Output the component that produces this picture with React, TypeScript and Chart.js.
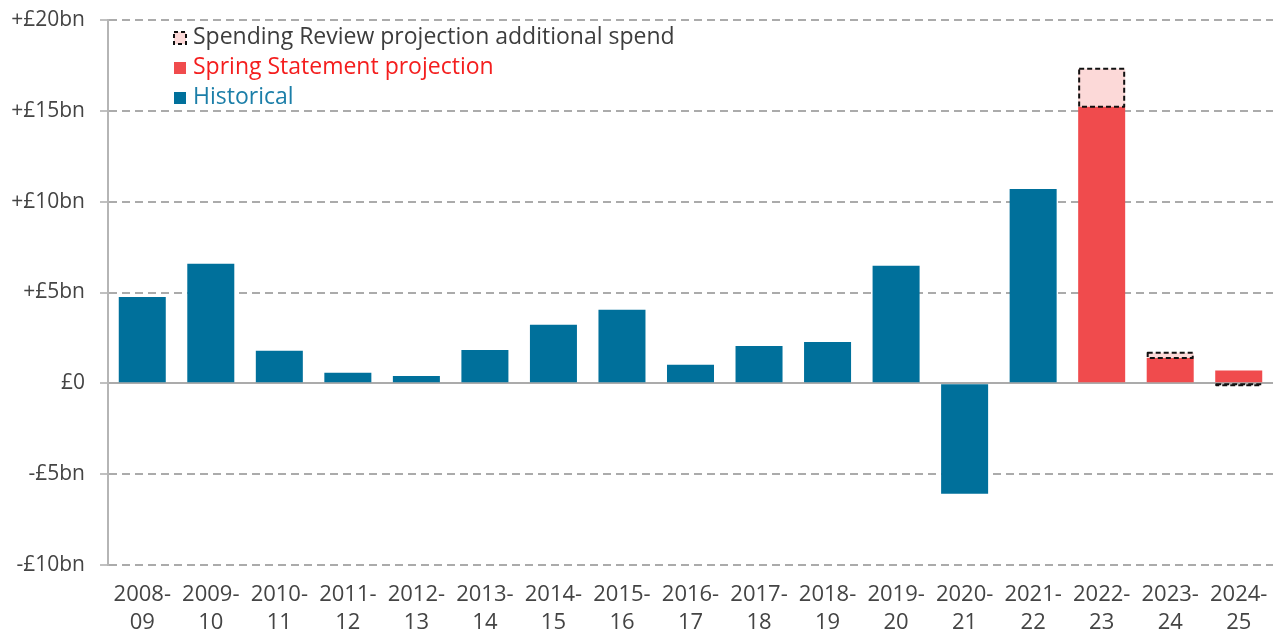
import React, { useEffect, useRef } from "react";
import { Chart, registerables } from "chart.js";

Chart.register(...registerables);

const categories = [
  "2008-09", "2009-10", "2010-11", "2011-12", "2012-13", "2013-14", "2014-15", "2015-16",
  "2016-17", "2017-18", "2018-19", "2019-20", "2020-21", "2021-22", "2022-23", "2023-24", "2024-25",
];
const historical = [4.75, 6.58, 1.79, 0.58, 0.41, 1.84, 3.22, 4.05, 1.02, 2.06, 2.28, 6.47, -6.08, 10.7, null, null, null];
const springStatement = [null, null, null, null, null, null, null, null, null, null, null, null, null, null, 15.23, 1.4, 0.7];
const reviewBase = [null, null, null, null, null, null, null, null, null, null, null, null, null, null, 15.23, 1.4, 0];
const reviewTop = [null, null, null, null, null, null, null, null, null, null, null, null, null, null, 17.31, 1.68, -0.06];
const yTicks = [-10, -5, 0, 5, 10, 15, 20];

const FONT = "'Open Sans', sans-serif";
const BLUE = "#00709b";
const RED = "#f04b4d";
const PINK = "#fcd9d8";
const GRID = "#ababab";
const TEXT = "#444444";

const legendItems = [
  { label: "Spending Review projection additional spend", fill: PINK, dashed: true, color: "#3d3d3d" },
  { label: "Spring Statement projection", fill: RED, dashed: false, color: "#f41e1e" },
  { label: "Historical", fill: BLUE, dashed: false, color: "#1b7ea8" },
];

const dashedOutline = {
  id: "dashedOutline",
  afterDatasetsDraw(chart: any) {
    const meta = chart.getDatasetMeta(0);
    const ctx = chart.ctx;
    ctx.save();
    ctx.strokeStyle = "#111";
    ctx.lineWidth = 2;
    ctx.setLineDash([5, 3]);
    ctx.lineJoin = "round";
    meta.data.forEach((el: any, i: number) => {
      if (reviewTop[i] === null) return;
      const p = el.getProps(["x", "y", "base", "width"], true);
      const left = p.x - p.width / 2;
      const top = Math.min(p.y, p.base);
      const h = Math.max(Math.abs(p.base - p.y), 1);
      ctx.strokeRect(left + 1, top, p.width - 2, h);
    });
    ctx.restore();
  },
};

const insideLegend = {
  id: "insideLegend",
  afterDraw(chart: any) {
    const ctx = chart.ctx;
    ctx.save();
    ctx.font = `23px ${FONT}`;
    ctx.textBaseline = "middle";
    legendItems.forEach((it, i) => {
      const cy = 37 + i * 30;
      const sx = 174;
      const s = 12;
      ctx.fillStyle = it.fill;
      ctx.fillRect(sx, cy - s / 2 + 1, s, s);
      if (it.dashed) {
        ctx.strokeStyle = "#111";
        ctx.lineWidth = 2;
        ctx.setLineDash([4, 3]);
        ctx.strokeRect(sx, cy - s / 2 + 1, s, s);
        ctx.setLineDash([]);
      }
      ctx.fillStyle = it.color;
      ctx.fillText(it.label, 193, cy);
    });
    ctx.restore();
  },
};

export default function App() {
  const ref = useRef<HTMLCanvasElement | null>(null);
  useEffect(() => {
    if (!ref.current) return;
    const chart = new Chart(ref.current, {
      type: "bar",
      data: {
        labels: categories,
        datasets: [
          {
            label: "Spending Review projection additional spend",
            data: reviewBase.map((b, i) => (b === null ? null : [b, reviewTop[i] as number])) as any,
            backgroundColor: PINK,
            borderWidth: 0,
            order: 3,
          },
          {
            label: "Spring Statement projection",
            data: springStatement as any,
            backgroundColor: RED,
            borderWidth: 0,
            order: 2,
          },
          {
            label: "Historical",
            data: historical as any,
            backgroundColor: BLUE,
            borderWidth: 0,
            order: 1,
          },
        ],
      },
      options: {
        animation: false,
        responsive: true,
        maintainAspectRatio: false,
        layout: { padding: { top: 20, right: 6, left: 0, bottom: 0 } },
        datasets: { bar: { grouped: false, barPercentage: 0.686, categoryPercentage: 1 } },
        plugins: { legend: { display: false }, tooltip: { enabled: false } },
        scales: {
          x: {
            grid: { display: false },
            border: { display: false },
            ticks: {
              color: TEXT,
              font: { family: FONT, size: 22, lineHeight: 1.25 },
              padding: 8,
              maxRotation: 0,
              autoSkip: false,
              callback: function (this: any, v: any) {
                const s = categories[v as number];
                return [s.slice(0, 5), s.slice(5)];
              },
            },
            afterFit: (scale: any) => {
              scale.height = 68;
            },
          },
          y: {
            min: -10,
            max: 20,
            afterBuildTicks: (scale: any) => {
              scale.ticks = yTicks.map((v) => ({ value: v }));
            },
            grid: {
              color: GRID,
              lineWidth: 2,
              drawTicks: true,
              tickLength: 8,
              tickColor: GRID,
              tickWidth: 1.5,
              tickBorderDash: [],
            },
            border: {
              display: true,
              color: "#b5b5b5",
              width: 2,
              dash: (c: any) => (c && c.type === "tick" ? (c.tick && c.tick.value === 0 ? [] : [8, 5]) : []),
            } as any,
            ticks: {
              color: TEXT,
              font: { family: FONT, size: 21, lineHeight: 0.2 },
              padding: 15,
              callback: (v: any) => (v > 0 ? `+£${v}bn` : v < 0 ? `-£${-v}bn` : "£0"),
            },
            afterFit: (scale: any) => {
              scale.width = 108;
              scale.paddingTop = 0;
              scale.paddingBottom = 0;
            },
          },
        },
      },
      plugins: [dashedOutline, insideLegend],
    });
    return () => chart.destroy();
  }, []);
  return (
    <div style={{ position: "absolute", left: 0, top: 0, width: 1279, height: 633 }}>
      <canvas ref={ref} />
    </div>
  );
}
